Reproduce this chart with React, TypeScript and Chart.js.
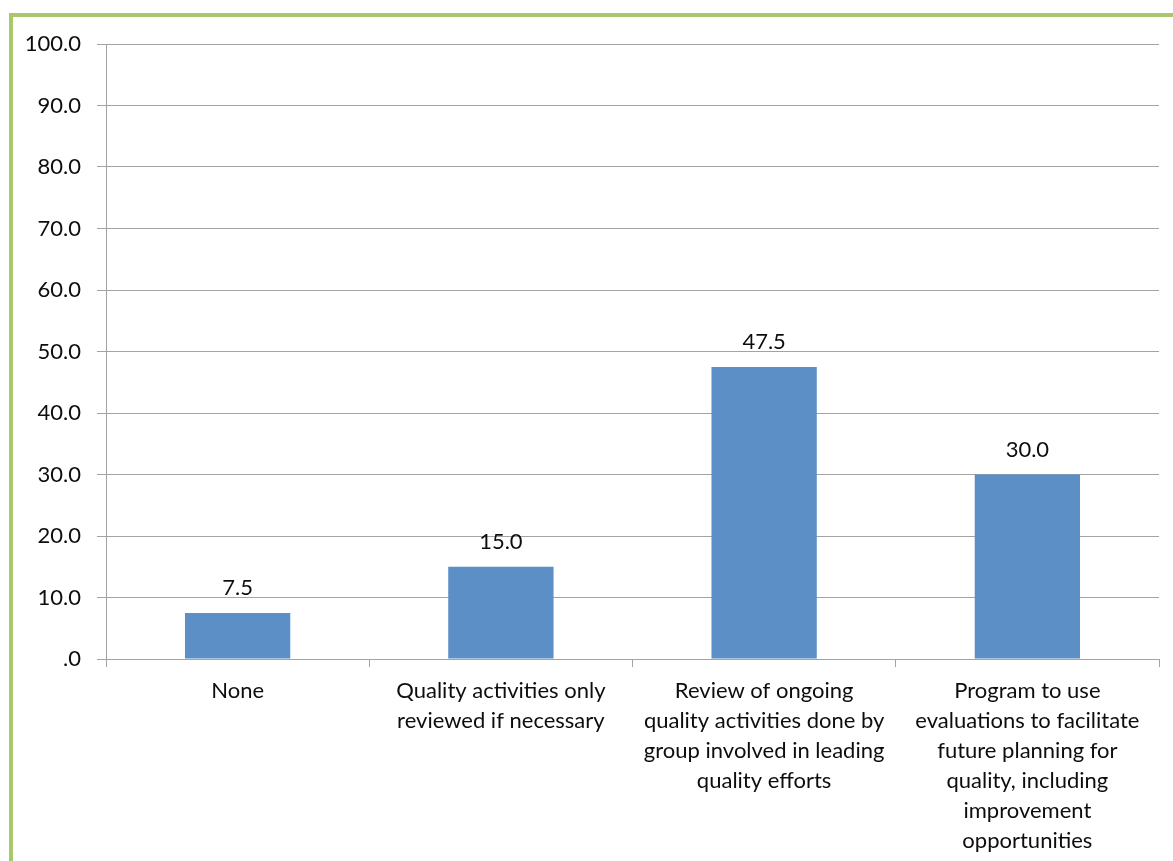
import React, { useEffect, useRef } from "react";
import { Chart, registerables } from "chart.js";

Chart.register(...registerables);

const categories: (string | string[])[] = [
  "None",
  ["Quality activities only", "reviewed if necessary"],
  ["Review of ongoing", "quality activities done by", "group involved in leading", "quality efforts"],
  ["Program to use", "evaluations to facilitate", "future planning for", "quality, including", "improvement", "opportunities"],
];
const values: number[] = [7.5, 15.0, 47.5, 30.0];
const yTicks: number[] = [0, 10, 20, 30, 40, 50, 60, 70, 80, 90, 100];

const FONT = "Lato";
const TEXT = "#0d0d0d";
const GRID = "#a3a3a3";
const BAR = "#5b8fc6";
const GREEN = "#a9c76b";

const valueLabels = {
  id: "valueLabels",
  afterDatasetsDraw(chart: any) {
    const ctx = chart.ctx;
    const meta = chart.getDatasetMeta(0);
    ctx.save();
    ctx.font = `22px ${FONT}`;
    ctx.fillStyle = TEXT;
    ctx.textAlign = "center";
    ctx.textBaseline = "middle";
    meta.data.forEach((el: any, i: number) => {
      ctx.fillText(values[i].toFixed(1), el.x, el.y - 25);
    });
    ctx.restore();
  },
};

export default function App() {
  const ref = useRef<HTMLCanvasElement>(null);
  useEffect(() => {
    if (!ref.current) return;
    const chart = new Chart(ref.current, {
      type: "bar",
      data: {
        labels: categories,
        datasets: [
          {
            data: values,
            backgroundColor: BAR,
            borderWidth: 0,
            barPercentage: 0.5,
            categoryPercentage: 0.8,
          },
        ],
      },
      options: {
        responsive: false,
        maintainAspectRatio: false,
        animation: false,
        layout: { padding: { top: 44, right: 14, bottom: 0, left: 0 } },
        plugins: { legend: { display: false }, tooltip: { enabled: false } },
        scales: {
          x: {
            grid: {
              offset: true,
              drawOnChartArea: false,
              drawTicks: true,
              tickLength: 8,
              color: GRID,
            },
            border: { display: true, color: GRID },
            ticks: {
              color: TEXT,
              font: { family: FONT, size: 22, lineHeight: 30 / 22 },
              padding: 9,
              maxRotation: 0,
              autoSkip: false,
            },
            afterFit: (s: any) => {
              s.height = 861 - 659;
            },
          },
          y: {
            min: 0,
            max: 100,
            afterBuildTicks: (s: any) => {
              s.ticks = yTicks.map((v) => ({ value: v }));
            },
            grid: { color: GRID, tickLength: 9, drawTicks: true },
            border: { display: true, color: GRID },
            ticks: {
              color: TEXT,
              font: { family: FONT, size: 22 },
              padding: 16,
              callback: (v: any) => (Number(v) === 0 ? ".0" : Number(v).toFixed(1)),
            },
            afterFit: (s: any) => {
              s.width = 106;
            },
          },
        },
      },
      plugins: [valueLabels],
    });
    return () => chart.destroy();
  }, []);

  return (
    <div style={{ position: "absolute", left: 0, top: 0, width: 1173, height: 861, overflow: "hidden", background: "#fff" }}>
      <div
        style={{
          position: "absolute",
          left: 9,
          top: 13,
          width: 1173 - 13,
          height: 861 - 17,
          borderLeft: `4px solid ${GREEN}`,
          borderTop: `4px solid ${GREEN}`,
        }}
      />
      <canvas ref={ref} width={1173} height={861} style={{ position: "absolute", left: 0, top: 0 }} />
    </div>
  );
}
